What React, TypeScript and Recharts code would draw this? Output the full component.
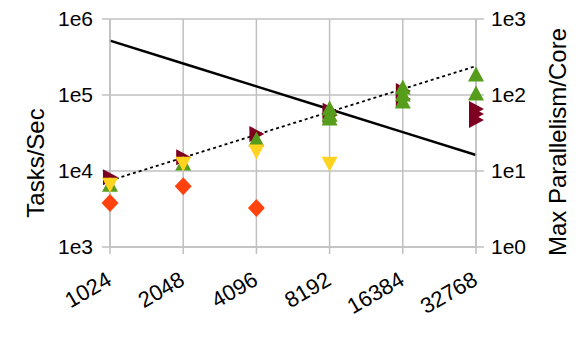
import { CartesianGrid, ComposedChart, Line, Scatter, XAxis, YAxis } from "recharts";

const sizes = [1024, 2048, 4096, 8192, 16384, 32768];
const peakRate = [520000, 260000, 130000, 65000, 32500, 16250];
const maxParallelism = [7.5, 15, 30, 60, 120, 240];

const maroonSizes = [1024, 2048, 4096, 8192, 8192, 16384, 16384, 32768, 32768, 32768];
const maroonRates = [8300, 15200, 30700, 62000, 54000, 113000, 88600, 65400, 56200, 46900];

const greenSizes = [1024, 2048, 4096, 8192, 8192, 8192, 16384, 16384, 16384, 32768, 32768];
const greenRates = [6700, 12700, 26400, 67500, 56000, 49800, 127000, 103000, 83400, 189000, 106000];

const yellowSizes = [1024, 2048, 4096, 8192];
const yellowRates = [6500, 12300, 17800, 12300];

const orangeSizes = [1024, 2048, 4096];
const orangeRates = [3800, 6300, 3260];

const leftTicks = [1e3, 1e4, 1e5, 1e6];
const rightTicks = [1, 10, 100, 1000];

const zip = (xs: number[], ys: number[]) => xs.map((x, i) => ({ x, y: ys[i] }));

const font = '"Liberation Sans", Arial, sans-serif';
const expLabel = (v: number) => '1e' + Math.round(Math.log10(v));

const shape = (kind: string, color: string) => (props: any) => {
    const { cx, cy } = props;
    let pts = '';
    if (kind === 'up') pts = `${cx},${cy - 7.5} ${cx + 8},${cy + 7.5} ${cx - 8},${cy + 7.5}`;
    if (kind === 'down') pts = `${cx - 8},${cy - 7.5} ${cx + 8},${cy - 7.5} ${cx},${cy + 7.5}`;
    if (kind === 'right') pts = `${cx - 7},${cy - 8} ${cx + 8},${cy} ${cx - 7},${cy + 8}`;
    if (kind === 'diamond') pts = `${cx},${cy - 9} ${cx + 8.5},${cy} ${cx},${cy + 9} ${cx - 8.5},${cy}`;
    return <polygon points={pts} fill={color} />;
};

const XTick = (props: any) => {
    const { x, y, payload } = props;
    return (
        <g transform={`translate(${x + 3},${y + 28})`}>
            <text transform="rotate(-30)" textAnchor="end" fontSize={22} fontFamily={font} fill="#000">
                {payload.value}
            </text>
        </g>
    );
};

const gridGray = '#c0c0c0';

export default function App() {
    return (
        <div style={{ position: 'absolute', left: 0, top: 0, width: 578, height: 346, background: '#fff' }}>
            <ComposedChart
                width={578}
                height={346}
                margin={{ top: 19, right: 42, bottom: 39, left: 50 }}
            >
                <CartesianGrid yAxisId="left" stroke={gridGray} strokeWidth={1.5} />
                <XAxis
                    dataKey="x"
                    type="number"
                    scale="log"
                    domain={[1024, 32768]}
                    ticks={sizes}
                    interval={0}
                    height={60}
                    axisLine={{ stroke: gridGray, strokeWidth: 1.5 }}
                    tickLine={{ stroke: gridGray, strokeWidth: 1.5 }}
                    tickSize={7}
                    tick={<XTick />}
                />
                <YAxis
                    yAxisId="left"
                    dataKey="y"
                    type="number"
                    scale="log"
                    domain={[1e3, 1e6]}
                    ticks={leftTicks}
                    interval={0}
                    width={60}
                    tickFormatter={expLabel}
                    axisLine={{ stroke: gridGray, strokeWidth: 1.5 }}
                    tickLine={{ stroke: gridGray, strokeWidth: 1.5 }}
                    tickSize={8}
                    tickMargin={9}
                    tick={{ fontSize: 21, fontFamily: font, fill: '#000' }}
                />
                <YAxis
                    yAxisId="right"
                    orientation="right"
                    dataKey="y"
                    type="number"
                    scale="log"
                    domain={[1, 1000]}
                    ticks={rightTicks}
                    interval={0}
                    width={60}
                    tickFormatter={expLabel}
                    axisLine={{ stroke: gridGray, strokeWidth: 1.5 }}
                    tickLine={{ stroke: gridGray, strokeWidth: 1.5 }}
                    tickSize={8}
                    tickMargin={7}
                    tick={{ fontSize: 21, fontFamily: font, fill: '#000' }}
                />
                <Scatter yAxisId="left" data={zip(maroonSizes, maroonRates)} shape={shape('right', '#7e0021')} isAnimationActive={false} />
                <Line yAxisId="left" data={zip(sizes, peakRate)} dataKey="y" stroke="#000" strokeWidth={2.5} dot={false} isAnimationActive={false} />
                <Line yAxisId="right" data={zip(sizes, maxParallelism)} dataKey="y" stroke="#000" strokeWidth={1.8} strokeDasharray="3 3" dot={false} isAnimationActive={false} />
                <Scatter yAxisId="left" data={zip(greenSizes, greenRates)} shape={shape('up', '#579d1c')} isAnimationActive={false} />
                <Scatter yAxisId="left" data={zip(yellowSizes, yellowRates)} shape={shape('down', '#ffd320')} isAnimationActive={false} />
                <Scatter yAxisId="left" data={zip(orangeSizes, orangeRates)} shape={shape('diamond', '#ff420e')} isAnimationActive={false} />
            </ComposedChart>
            <div style={{ position: 'absolute', left: 36, top: 163, transform: 'translate(-50%, -50%) rotate(-90deg)', fontSize: 24, fontFamily: font, whiteSpace: 'nowrap' }}>
                Tasks/Sec
            </div>
            <div style={{ position: 'absolute', left: 558, top: 142, transform: 'translate(-50%, -50%) rotate(-90deg)', fontSize: 24, fontFamily: font, whiteSpace: 'nowrap' }}>
                Max Parallelism/Core
            </div>
        </div>
    );
}
